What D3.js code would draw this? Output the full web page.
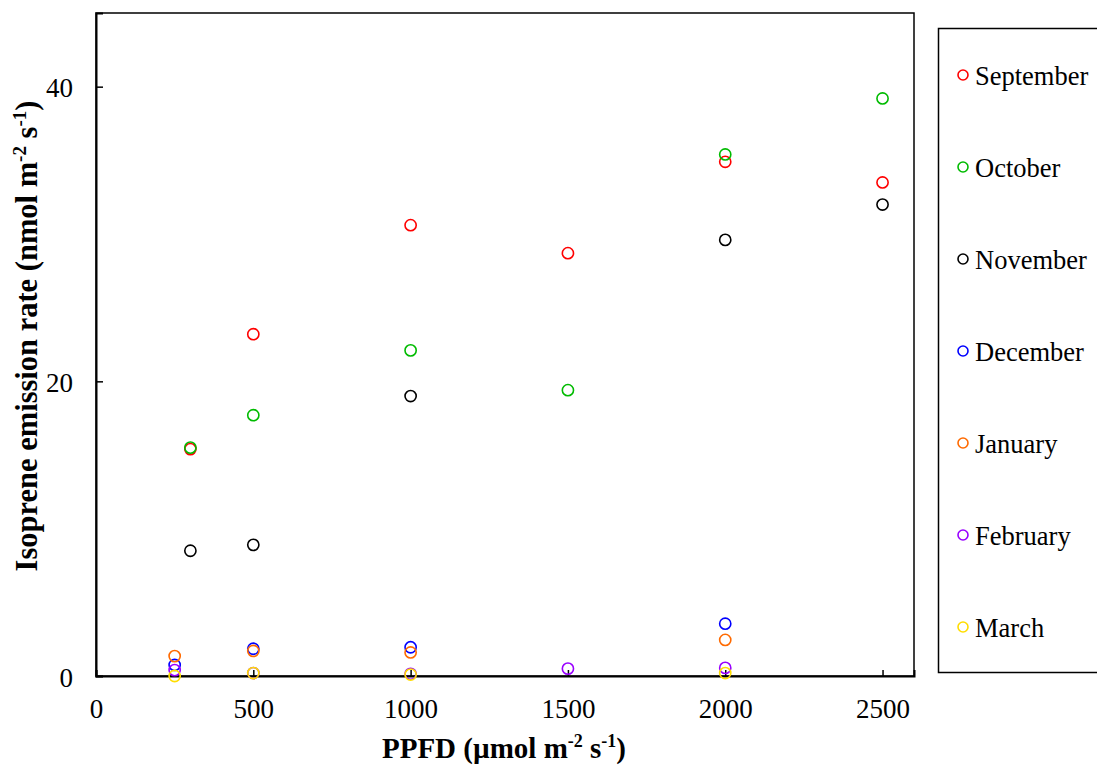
<!DOCTYPE html>
<html><head><meta charset="utf-8">
<script src="https://cdn.jsdelivr.net/npm/d3@7"></script>
<style>body{margin:0;background:#fff}svg{display:block}</style>
</head><body>
<svg id="c" width="1097" height="767"></svg>
<script>
const months = ["September","October","November","December","January","February","March"];
const colors = ["#ff0000","#00bb00","#000000","#0000ff","#ff6a00","#9900ff","#ffdd00"];
const september = [[300,15.4],[500,23.2],[1000,30.6],[1500,28.7],[2000,34.9],[2500,33.5]];
const october   = [[300,15.5],[500,17.7],[1000,22.1],[1500,19.4],[2000,35.4],[2500,39.2]];
const november  = [[300,8.5],[500,8.9],[1000,19.0],[2000,29.6],[2500,32.0]];
const december  = [[250,0.75],[500,1.85],[1000,1.95],[2000,3.55]];
const january   = [[250,1.35],[500,1.7],[1000,1.6],[2000,2.45]];
const february  = [[250,0.4],[500,0.2],[1000,0.15],[1500,0.5],[2000,0.55]];
const march     = [[250,0.0],[500,0.2],[1000,0.1],[2000,0.2]];
const seriesData = [september,october,november,december,january,february,march];
const xTicks = [0,500,1000,1500,2000,2500];
const yTicks = [0,20,40];

const svg = d3.select("#c");
const L=96, R=914, T=13, B=676;
const x = d3.scaleLinear().domain([0,2600]).range([L,R]);
const y = d3.scaleLinear().domain([0,45]).range([B,T]);
const font = "'Liberation Serif','Times New Roman',serif";

// frame
svg.append("rect").attr("x",L).attr("y",T).attr("width",R-L).attr("height",B-T)
  .attr("fill","none").attr("stroke","#000").attr("stroke-width",1.5);

// axes
const xa = svg.append("g").attr("transform",`translate(0,${B})`)
  .call(d3.axisBottom(x).tickValues(xTicks).tickSize(-6).tickFormat(d3.format("d")));
const ya = svg.append("g").attr("transform",`translate(${L},0)`)
  .call(d3.axisLeft(y).tickValues(yTicks).tickSize(-7).tickPadding(23).tickFormat(d3.format("d")));
[xa,ya].forEach(g=>{
  g.select(".domain").attr("stroke","#000").attr("stroke-width",2);
  g.selectAll(".tick line").attr("stroke","#000").attr("stroke-width",1.5);
  g.selectAll(".tick text").attr("font-family",font).attr("font-size",27).attr("fill","#000");
});
xa.selectAll(".tick text").attr("y",42).attr("dy",0);
ya.selectAll(".tick text").attr("dy",0).attr("y",10);

// points
seriesData.forEach((s,i)=>{
  svg.append("g").selectAll("circle").data(s).join("circle")
    .attr("cx",d=>x(d[0])).attr("cy",d=>y(d[1])).attr("r",5.6)
    .attr("fill","none").attr("stroke",colors[i]).attr("stroke-width",1.6);
});

// axis titles
const xt = svg.append("text").attr("x",504).attr("y",758).attr("text-anchor","middle")
  .attr("font-family",font).attr("font-weight","bold").attr("font-size",29);
xt.append("tspan").text("PPFD (µmol m");
xt.append("tspan").attr("font-size",18).attr("dy",-11).text("-2");
xt.append("tspan").attr("dy",11).text(" s");
xt.append("tspan").attr("font-size",18).attr("dy",-11).text("-1");
xt.append("tspan").attr("dy",11).text(")");

const yt = svg.append("text").attr("transform",`translate(37,336) rotate(-90)`).attr("text-anchor","middle")
  .attr("font-family",font).attr("font-weight","bold").attr("font-size",30.5);
yt.append("tspan").text("Isoprene emission rate (nmol m");
yt.append("tspan").attr("font-size",19).attr("dy",-11).text("-2");
yt.append("tspan").attr("dy",11).text(" s");
yt.append("tspan").attr("font-size",19).attr("dy",-11).text("-1");
yt.append("tspan").attr("dy",11).text(")");

// legend
svg.append("rect").attr("x",938.5).attr("y",28.5).attr("width",170).attr("height",644)
  .attr("fill","none").attr("stroke","#000").attr("stroke-width",1.5);
const ly = d3.scalePoint().domain(months).range([75,627]);
const lg = svg.append("g").selectAll("g").data(months).join("g")
  .attr("transform",d=>`translate(0,${ly(d)})`);
lg.append("circle").attr("cx",963).attr("cy",0).attr("r",5).attr("fill","none")
  .attr("stroke",(d,i)=>colors[i]).attr("stroke-width",1.6);
lg.append("text").attr("x",975).attr("y",10).attr("font-family",font)
  .attr("font-size",26.5).text(d=>d);
</script>
</body></html>
